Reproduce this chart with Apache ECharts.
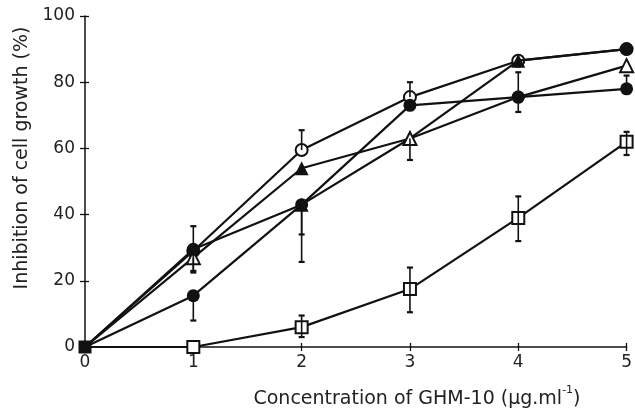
<!DOCTYPE html>
<html>
<head>
<meta charset="utf-8">
<script src="https://cdn.jsdelivr.net/npm/echarts@6/dist/echarts.min.js"></script>
<style>
  html, body { margin: 0; padding: 0; background: #fff; }
  #chart { width: 635px; height: 411px; }
</style>
</head>
<body>
<div id="chart"></div>
<script>
// Dose (µg/ml) on x, % inhibition on y
const doses = [0, 1, 2, 3, 4, 5];
const yTicks = [0, 20, 40, 60, 80, 100];

// Mean inhibition per series
const openCircle     = [0, 29,   59.5, 75.5, 86.5, 90];
const filledTriangle = [0, 27,   54,   63,   86.5, 90];
const filledCircle   = [0, 29.5, 43,   73,   75.5, 78];
const openTriangle   = [0, 15.5, 43,   63,   75.5, 85];
const openSquare     = [0, 0,    6,    17.5, 39,   62];

// Error bar ends (absolute %, null = no bar)
const openCircleLo     = [null, null, 59.5, 75.5, null, null];
const openCircleHi     = [null, null, 65.5, 80,   null, null];
const filledTriangleLo = [null, 23,   null, 56.5, null, null];
const filledTriangleHi = [null, 27,   null, 63,   null, null];
const filledCircleLo   = [null, 22.5, 25.7, null, 71,   78];
const filledCircleHi   = [null, 36.5, 43,   null, 83,   82];
const openTriangleLo   = [null, 8,    34,   null, null, null];
const openTriangleHi   = [null, 15.5, 43,   null, null, null];
const openSquareLo     = [null, null, 3,    10.5, 32,   58];
const openSquareHi     = [null, null, 9.5,  24,   45.5, 65];

// Marker shape at each dose
const openCircleSym     = ['none', 'emptyCircle', 'emptyCircle', 'emptyCircle', 'emptyCircle', 'emptyCircle'];
const filledTriangleSym = ['none', 'emptyTriangle', 'triangle', 'triangle', 'triangle', 'circle'];
const filledCircleSym   = ['none', 'circle', 'circle', 'circle', 'circle', 'circle'];
const openTriangleSym   = ['none', 'circle', 'triangle', 'emptyTriangle', 'circle', 'emptyTriangle'];
const openSquareSym     = ['rect', 'emptyRect', 'emptyRect', 'emptyRect', 'emptyRect', 'emptyRect'];

const INK = '#111';

const groups = [
  { name: 'open circle',     v: openCircle,     lo: openCircleLo,     hi: openCircleHi,     sym: openCircleSym },
  { name: 'filled triangle', v: filledTriangle, lo: filledTriangleLo, hi: filledTriangleHi, sym: filledTriangleSym },
  { name: 'filled circle',   v: filledCircle,   lo: filledCircleLo,   hi: filledCircleHi,   sym: filledCircleSym },
  { name: 'open triangle',   v: openTriangle,   lo: openTriangleLo,   hi: openTriangleHi,   sym: openTriangleSym },
  { name: 'open square',     v: openSquare,     lo: openSquareLo,     hi: openSquareHi,     sym: openSquareSym }
];

function markerSize(s) {
  if (s === 'rect') return 13;
  if (s === 'circle') return 13;
  if (s === 'triangle') return 14;
  if (s.indexOf('Rect') > 0) return 12;
  if (s.indexOf('riangle') >= 0) return 13;
  return 12;
}

function lineSeries(g, z) {
  return {
    type: 'line',
    name: g.name,
    z: z,
    clip: false,
    showSymbol: true,
    lineStyle: { color: INK, width: 2.2 },
    data: doses.map((d, i) => {
      const s = g.sym[i];
      const empty = s.indexOf('empty') === 0;
      return {
        value: [d, g.v[i]],
        symbol: s,
        symbolSize: markerSize(s),
        itemStyle: { color: INK, borderColor: INK, borderWidth: empty ? 1.8 : 0 }
      };
    }),
    emphasis: { disabled: true },
    animation: false
  };
}

function errorSeries(g) {
  const data = [];
  doses.forEach((d, i) => {
    if (g.lo[i] !== null && g.hi[i] !== null) data.push([d, g.lo[i], g.hi[i], g.v[i]]);
  });
  return {
    type: 'custom',
    name: g.name + ' error',
    z: 20,
    clip: false,
    silent: true,
    encode: { x: 0, y: [1, 2] },
    data: data,
    renderItem: function (params, api) {
      const x = api.value(0), lo = api.value(1), hi = api.value(2), v = api.value(3);
      const a = api.coord([x, lo]);
      const b = api.coord([x, hi]);
      const kids = [{ type: 'line', shape: { x1: a[0], y1: a[1], x2: b[0], y2: b[1] }, style: { stroke: INK, lineWidth: 1.6 } }];
      const cap = 3;
      if (Math.abs(lo - v) > 0.01) kids.push({ type: 'line', shape: { x1: a[0] - cap, y1: a[1], x2: a[0] + cap, y2: a[1] }, style: { stroke: INK, lineWidth: 2.2 } });
      if (Math.abs(hi - v) > 0.01) kids.push({ type: 'line', shape: { x1: b[0] - cap, y1: b[1], x2: b[0] + cap, y2: b[1] }, style: { stroke: INK, lineWidth: 2.2 } });
      return { type: 'group', children: kids };
    },
    animation: false
  };
}

const FONT = 'DejaVu Sans';
const axisCommon = {
  type: 'value',
  splitLine: { show: false },
  axisLine: { show: true, lineStyle: { color: INK, width: 1.5 } }
};

const option = {
  backgroundColor: '#fff',
  animation: false,
  grid: { left: 85, right: 5, top: 16, bottom: 64, containLabel: false },
  xAxis: [
    Object.assign({}, axisCommon, {
      min: 0, max: 5, interval: 1,
      axisTick: { show: true, inside: false, length: 4, lineStyle: { color: INK, width: 1.3 } },
      axisLabel: { margin: 7, color: '#222', fontFamily: FONT, fontSize: 17 }
    }),
    Object.assign({}, axisCommon, {
      min: 0, max: 5, interval: 1, position: 'bottom',
      axisLine: { show: false },
      axisTick: { show: true, inside: true, length: 4, lineStyle: { color: INK, width: 1.3 } },
      axisLabel: { show: false }
    })
  ],
  yAxis: [
    Object.assign({}, axisCommon, {
      min: yTicks[0], max: yTicks[yTicks.length - 1], interval: 20,
      axisTick: { show: true, inside: false, length: 5, lineStyle: { color: INK, width: 1.3 } },
      axisLabel: { margin: 10, color: '#222', fontFamily: FONT, fontSize: 17 }
    }),
    Object.assign({}, axisCommon, {
      min: yTicks[0], max: yTicks[yTicks.length - 1], interval: 20, position: 'left',
      axisLine: { show: false },
      axisTick: { show: true, inside: true, length: 4, lineStyle: { color: INK, width: 1.3 } },
      axisLabel: { show: false }
    })
  ],
  graphic: [
    {
      type: 'text',
      x: 417, y: 397,
      style: {
        text: '{b|Concentration of GHM-10 (μg.ml}{sup|-1}{b|)}',
        fill: '#222',
        font: '19px "DejaVu Sans"',
        textAlign: 'center',
        textVerticalAlign: 'middle',
        rich: {
          b: { fontSize: 19, fontFamily: FONT, fill: '#222', lineHeight: 24, verticalAlign: 'bottom' },
          sup: { fontSize: 11, fontFamily: FONT, fill: '#222', lineHeight: 12, verticalAlign: 'top' }
        }
      }
    },
    {
      type: 'text',
      x: 22, y: 158,
      rotation: Math.PI / 2,
      style: {
        text: 'Inhibition of cell growth (%)',
        fill: '#222',
        font: '19px "DejaVu Sans"',
        textAlign: 'center',
        textVerticalAlign: 'middle'
      }
    }
  ],
  series: groups.map((g, k) => lineSeries(g, 10 + k)).concat(groups.map(errorSeries))
};

const chart = echarts.init(document.getElementById('chart'), null, { renderer: 'canvas' });
chart.setOption(option);
</script>
</body>
</html>
